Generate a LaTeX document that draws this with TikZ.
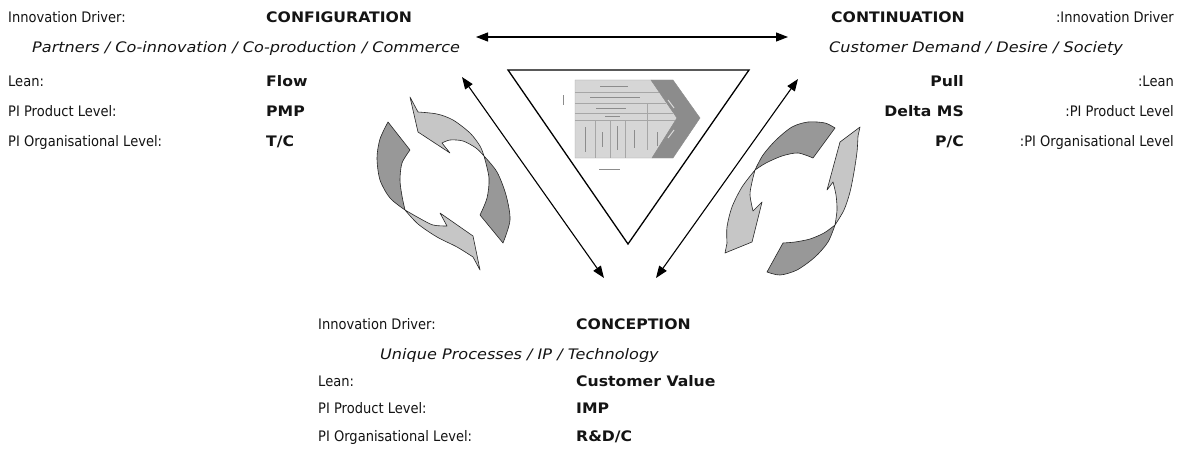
\documentclass[tikz,border=0pt]{standalone}
\usepackage{fontspec}
\setmainfont{DejaVu Sans}[FakeStretch=0.9]
\newfontfamily\valfont{DejaVu Sans}[FakeStretch=1.08]
\newfontfamily\itfont{DejaVu Sans}[FakeStretch=1.11]
\usetikzlibrary{arrows.meta}
\definecolor{lightarr}{RGB}{198,198,198}
\definecolor{darkarr}{RGB}{152,152,152}
\definecolor{blockgray}{RGB}{214,214,214}
\definecolor{chevgray}{RGB}{140,140,140}
\definecolor{txt}{RGB}{20,20,20}
\begin{document}
\begin{tikzpicture}[x=1pt,y=-1pt,
  every node/.style={inner sep=0pt, text=txt},
  lbl/.style={anchor=base west, font=\fontsize{14.5}{16}\selectfont},
  lblr/.style={anchor=base east, font=\fontsize{14.5}{16}\selectfont},
  val/.style={anchor=base west, font=\valfont\bfseries\fontsize{14.5}{16}\selectfont},
  valr/.style={anchor=base east, font=\valfont\bfseries\fontsize{14.5}{16}\selectfont},
  itl/.style={anchor=base west, font=\itfont\itshape\fontsize{14.5}{16}\selectfont},
  dbl/.style={{Triangle[length=12pt,width=9pt]}-{Triangle[length=12pt,width=9pt]}, line width=1.1pt},
  ring/.style={draw=black!85, line width=0.6pt, line join=round},
  fake/.style={draw=black!45, line width=0.9pt},
]
\fill[white] (0,0) rectangle (1186,452);
\useasboundingbox (0,0) rectangle (1186,452);

% ---------- left text block ----------
\node[lbl] (cfgl1) at (8,23) {Innovation Driver:};
\node[val] (cfgv1) at (266,23) {CONFIGURATION};
\node[itl] (cfgit) at (32,53) {Partners / Co-innovation / Co-production / Commerce};
\node[lbl] (cfgl2) at (8,87) {Lean:};
\node[val] (cfgv2) at (266,87) {Flow};
\node[lbl] (cfgl3) at (8,116) {PI Product Level:};
\node[val] (cfgv3) at (266,116) {PMP};
\node[lbl] (cfgl4) at (8,146) {PI Organisational Level:};
\node[val] (cfgv4) at (266,146) {T/C};

% ---------- right text block ----------
\node[valr] (conv1) at (965,23) {CONTINUATION};
\node[lblr] (conl1) at (1174,23) {:Innovation Driver};
\node[itl] (conit) at (829,53) {Customer Demand / Desire / Society};
\node[valr] (conv2) at (964,87) {Pull};
\node[lblr] (conl2) at (1174,87) {:Lean};
\node[valr] (conv3) at (964,116) {Delta MS};
\node[lblr] (conl3) at (1174,116) {:PI Product Level};
\node[valr] (conv4) at (964,146) {P/C};
\node[lblr] (conl4) at (1174,146) {:PI Organisational Level};

% ---------- bottom text block ----------
\node[lbl] (cepl1) at (318,329) {Innovation Driver:};
\node[val] (cepv1) at (576,329) {CONCEPTION};
\node[itl] (cepit) at (380,359) {Unique Processes / IP / Technology};
\node[lbl] (cepl2) at (318,386) {Lean:};
\node[val] (cepv2) at (576,386) {Customer Value};
\node[lbl] (cepl3) at (318,413) {PI Product Level:};
\node[val] (cepv3) at (576,413) {IMP};
\node[lbl] (cepl4) at (318,441) {PI Organisational Level:};
\node[val] (cepv4) at (576,441) {R\&D/C};

% ---------- double arrows ----------
\coordinate (hL) at (476,37);
\coordinate (hR) at (788,37);
\coordinate (dL1) at (462,77);
\coordinate (dL2) at (604,278);
\coordinate (dR1) at (798,79);
\coordinate (dR2) at (656,278);
\draw[dbl] (hL) -- (hR);
\draw[dbl] (dL1) -- (dL2);
\draw[dbl] (dR1) -- (dR2);

% ---------- central triangle ----------
\coordinate (tA) at (508,70);
\coordinate (tB) at (749,70);
\coordinate (tC) at (628,244);
\draw[line width=1.3pt, line join=miter] (tA) -- (tB) -- (tC) -- cycle;

% small embedded diagram
\filldraw[fill=blockgray, draw=black!35, line width=0.4pt]
  (575,80) -- (651,80) -- (677,118) -- (652,158) -- (575,158) -- cycle;
\filldraw[fill=chevgray, draw=black!45, line width=0.4pt]
  (651,80) -- (673,80) -- (700,118) -- (673,158) -- (652,158) -- (677,118) -- cycle;
\draw[black!35, line width=0.4pt]
  (575,92) -- (659,92)
  (575,103) -- (666,103)
  (575,113) -- (673,113)
  (575,120) -- (675,120)
  (595,120) -- (595,158)
  (610,120) -- (610,158)
  (625,120) -- (625,158)
  (647,103) -- (647,150);
\draw[fake] (600,86) -- (628,86)
  (590,97.5) -- (640,97.5)
  (596,108) -- (626,108)
  (605,116.5) -- (620,116.5)
  (585,127) -- (585,152)
  (602,132) -- (602,147)
  (617,126) -- (617,150)
  (634,130) -- (634,148)
  (657,132) -- (657,146)
  (563,95) -- (563,105)
  (599,169) -- (620,169);
\draw[white!85!black, line width=1pt] (668,100) -- (674,108) (668,138) -- (674,130);

% ---------- left rotating arrows ----------
\filldraw[ring, fill=darkarr] (388,122) -- (410,150)
  -- plot[smooth] coordinates {(410,150) (402,163) (400,180) (402,196) (405,210)}
  -- plot[smooth] coordinates {(405,210) (390,198) (380,180) (377,158) (380,139) (388,122)} -- cycle;
\filldraw[ring, fill=darkarr] (484,156)
  -- plot[smooth] coordinates {(484,156) (497,172) (506,195) (510,220) (503,243)}
  -- (480,215)
  -- plot[smooth] coordinates {(480,215) (487,198) (489,178) (484,156)} -- cycle;
\filldraw[ring, fill=lightarr] (410,97) -- (418,112)
  -- plot[smooth] coordinates {(418,112) (437,114) (453,120) (470,133) (480,146) (484,156)}
  -- plot[smooth] coordinates {(484,156) (476,148) (463,141) (450,140) (442,143)}
  -- (450,153) -- (418,132) -- cycle;
\filldraw[ring, fill=lightarr] (405,210)
  -- plot[smooth] coordinates {(405,210) (418,224) (437,237) (457,247) (473,257)}
  -- (480,270) -- (473,236) -- (440,213)
  -- plot[smooth] coordinates {(447,226) (433,225) (419,218) (405,210)} -- cycle;

% ---------- right rotating arrows ----------
\filldraw[ring, fill=darkarr] (835,128)
  -- plot[smooth] coordinates {(835,128) (825,123) (808,122) (792,127) (776,140) (763,155) (755,170)}
  -- plot[smooth] coordinates {(755,170) (766,163) (782,156) (798,153) (813,158)} -- cycle;
\filldraw[ring, fill=darkarr] (767,272)
  -- plot[smooth] coordinates {(767,272) (780,275) (797,270) (815,257) (828,242) (835,225)}
  -- plot[smooth] coordinates {(835,225) (824,233) (810,239) (795,242) (783,243)} -- cycle;
\filldraw[ring, fill=lightarr] (755,170)
  -- plot[smooth] coordinates {(755,170) (742,187) (732,207) (727,227) (727,243)}
  -- (725,253) -- (752,242) -- (762,202)
  -- plot[smooth] coordinates {(753,211) (750,195) (752,182) (755,170)} -- cycle;
\filldraw[ring, fill=lightarr] (835,225)
  -- plot[smooth] coordinates {(835,225) (837,210) (836,195) (833,182)}
  -- (827,190) -- (840,142) -- (860,127) -- (858,136)
  -- plot[smooth] coordinates {(858,136) (857,152) (854,172) (850,192) (844,210) (835,225)} -- cycle;
\end{tikzpicture}
\end{document}
